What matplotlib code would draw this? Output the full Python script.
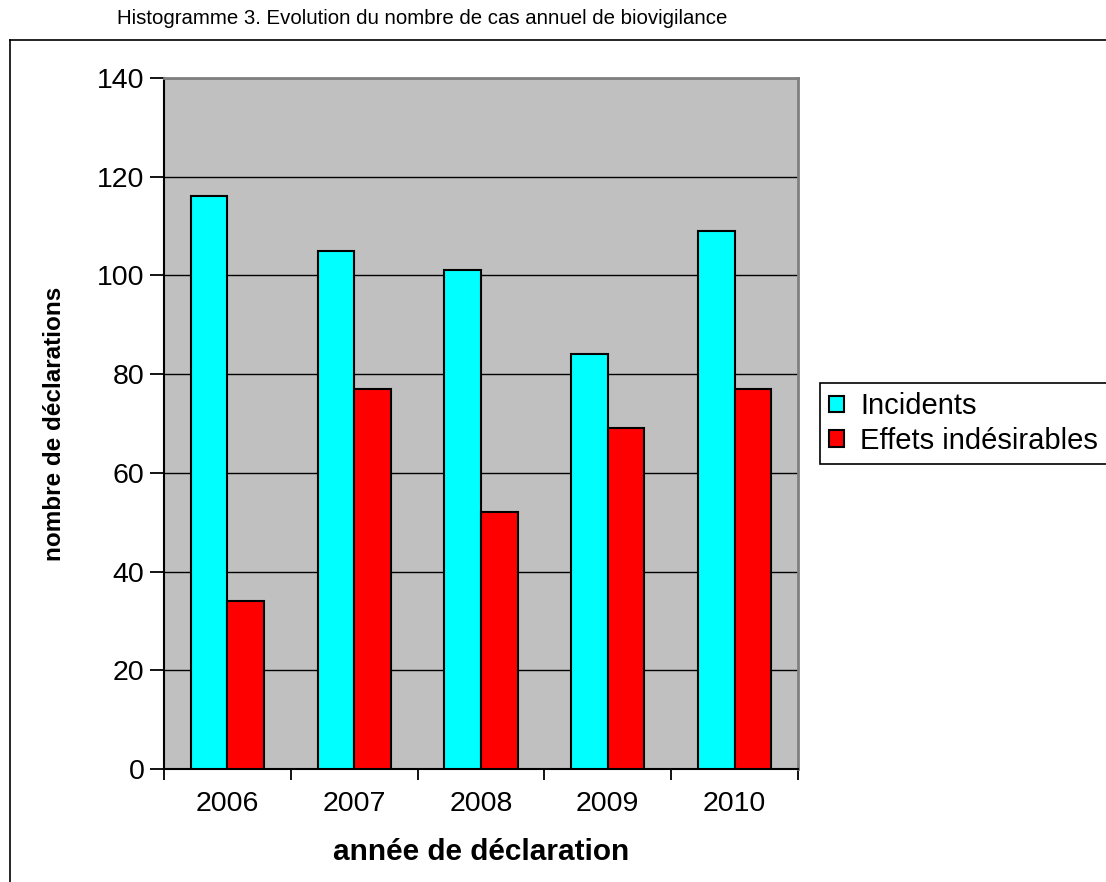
import matplotlib
matplotlib.use("Agg")
import matplotlib.pyplot as plt
from matplotlib.lines import Line2D
import numpy as np

plt.rcParams['font.family'] = ['Liberation Sans', 'DejaVu Sans']

years = ["2006", "2007", "2008", "2009", "2010"]
incidents = [116, 105, 101, 84, 109]
effets = [34, 77, 52, 69, 77]
series_names = ["Incidents", "Effets indésirables"]

W, H = 1106, 882
fig = plt.figure(figsize=(W / 100, H / 100), dpi=100)
ax = fig.add_axes([164 / W, 113 / H, 634 / W, 691 / H])

ax.set_facecolor("#C0C0C0")
x = np.arange(len(years))
bw = 0.288
ax.bar(x - bw / 2, incidents, bw, color="#00FFFF", edgecolor="black", linewidth=1.5,
       label=series_names[0], zorder=3)
ax.bar(x + bw / 2, effets, bw, color="#FF0000", edgecolor="black", linewidth=1.5,
       label=series_names[1], zorder=3)

ax.set_xlim(-0.5, len(years) - 0.5)
ax.set_ylim(0, 140)
ax.set_yticks(np.arange(0, 141, 20))
ax.yaxis.grid(True, color="black", linewidth=1.0, zorder=1)
ax.set_axisbelow(True)

# x ticks on category boundaries, labels centred in categories
ax.set_xticks(np.arange(-0.5, len(years), 1.0))
ax.set_xticklabels([])
ax.set_xticks(x, minor=True)
ax.set_xticklabels(years, minor=True)
ax.tick_params(axis="x", which="major", direction="out", length=8, width=1.3)
ax.tick_params(axis="x", which="minor", length=0, pad=16, labelsize=20.5)
ax.tick_params(axis="y", direction="out", length=10, width=1.3, pad=4, labelsize=20.5)

for side in ("top", "right"):
    ax.spines[side].set_color("#808080")
    ax.spines[side].set_linewidth(2)
for side in ("left", "bottom"):
    ax.spines[side].set_color("black")
    ax.spines[side].set_linewidth(1.5)

ax.set_xlabel("année de déclaration", fontsize=21.4, fontweight="bold")
ax.xaxis.set_label_coords(0.5, -0.1)
ax.set_ylabel("nombre de déclarations", fontsize=17.5, fontweight="bold")
ax.yaxis.set_label_coords(-0.155, 0.5)

leg = ax.legend(loc="upper left", bbox_to_anchor=(820 / W, 1 - 383 / H),
                bbox_transform=fig.transFigure, fontsize=21, frameon=True,
                fancybox=False, edgecolor="black", framealpha=1,
                handlelength=0.5, handleheight=0.5, handletextpad=0.55,
                borderpad=0.32, labelspacing=0.22, borderaxespad=0)
leg.get_frame().set_linewidth(1.2)

fig.text(117 / W, 1 - 18 / H, "Histogramme 3. Evolution du nombre de cas annuel de biovigilance",
         fontsize=14.7, va="center", ha="left")

fig.add_artist(Line2D([10 / W, 1], [1 - 40 / H, 1 - 40 / H], color="black", linewidth=1.2,
                      transform=fig.transFigure))
fig.add_artist(Line2D([10 / W, 10 / W], [1 - 40 / H, 0], color="black", linewidth=1.2,
                      transform=fig.transFigure))

fig.savefig("out.png", dpi=100, facecolor="white")
